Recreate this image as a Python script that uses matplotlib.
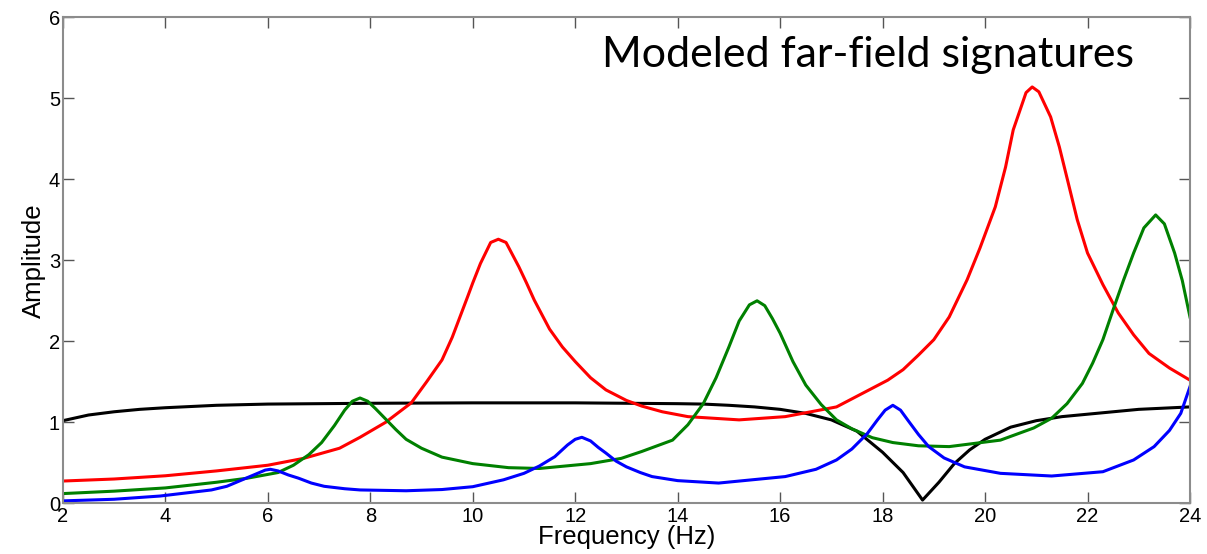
import numpy as np
import matplotlib
matplotlib.use("Agg")
import matplotlib.pyplot as plt

# =========================
# DATA
# =========================

freq_black = [2, 2.5, 3, 3.5, 4, 5, 6, 8, 10, 12, 13, 14, 14.5, 15, 15.5, 16,
              16.5, 17, 17.5, 18, 18.4, 18.78, 19.1, 19.4, 19.7, 20, 20.5, 21,
              21.5, 22, 23, 24]
amp_black = [1.02, 1.09, 1.13, 1.16, 1.18, 1.21, 1.225, 1.235, 1.24, 1.24,
             1.235, 1.23, 1.225, 1.21, 1.19, 1.16, 1.11, 1.03, 0.89, 0.63,
             0.38, 0.04, 0.26, 0.49, 0.66, 0.79, 0.94, 1.02, 1.07, 1.10, 1.16,
             1.19]

freq_red = [2, 3, 4, 5, 6, 6.7, 7.4, 7.8, 8.3, 8.8, 9.1, 9.4, 9.6, 9.75, 9.9,
            10.0, 10.15, 10.35, 10.5, 10.65, 10.9, 11.05, 11.2, 11.5, 11.75,
            12.0, 12.3, 12.6, 13.0, 13.3, 13.7, 14.2, 15.2, 16.1, 17.1, 18.1,
            18.4, 18.7, 19.0, 19.3, 19.65, 19.9, 20.2, 20.4, 20.55, 20.8,
            20.92, 21.05, 21.28, 21.45, 21.61, 21.8, 22.0, 22.3, 22.6, 22.9,
            23.2, 23.6, 24]
amp_red = [0.275, 0.30, 0.34, 0.40, 0.47, 0.555, 0.68, 0.815, 1.0, 1.24, 1.5,
           1.77, 2.05, 2.30, 2.55, 2.72, 2.96, 3.22, 3.26, 3.22, 2.92, 2.72,
           2.51, 2.15, 1.93, 1.75, 1.55, 1.40, 1.27, 1.20, 1.13, 1.07, 1.03,
           1.07, 1.19, 1.52, 1.65, 1.83, 2.02, 2.30, 2.76, 3.15, 3.66, 4.15,
           4.61, 5.07, 5.14, 5.08, 4.77, 4.40, 3.99, 3.50, 3.09, 2.70, 2.35,
           2.08, 1.85, 1.67, 1.52]

freq_green = [2, 3, 4, 5, 5.6, 6.2, 6.5, 6.8, 7.05, 7.3, 7.5, 7.65, 7.8, 7.95,
              8.1, 8.3, 8.5, 8.7, 9.0, 9.4, 10, 10.7, 11.3, 12.3, 12.9, 13.3,
              13.9, 14.2, 14.5, 14.75, 15.0, 15.2, 15.4, 15.55, 15.7, 15.85,
              16.0, 16.25, 16.5, 16.8, 17.1, 17.4, 17.8, 18.2, 18.7, 19.3,
              20.3, 20.95, 21.3, 21.6, 21.9, 22.1, 22.3, 22.5, 22.7, 22.9,
              23.1, 23.33, 23.5, 23.7, 23.85, 24]
amp_green = [0.12, 0.15, 0.19, 0.26, 0.31, 0.38, 0.47, 0.60, 0.75, 0.96, 1.15,
             1.26, 1.30, 1.26, 1.17, 1.04, 0.91, 0.79, 0.68, 0.57, 0.49, 0.44,
             0.43, 0.49, 0.555, 0.64, 0.78, 0.97, 1.23, 1.55, 1.93, 2.25, 2.45,
             2.50, 2.44, 2.28, 2.10, 1.75, 1.46, 1.22, 1.03, 0.92, 0.81, 0.75,
             0.71, 0.70, 0.78, 0.93, 1.05, 1.23, 1.48, 1.73, 2.02, 2.39, 2.75,
             3.09, 3.40, 3.56, 3.45, 3.09, 2.75, 2.30]

freq_blue = [2, 3, 3.9, 4.9, 5.2, 5.5, 5.8, 5.95, 6.05, 6.2, 6.4, 6.6, 6.85,
             7.1, 7.5, 7.8, 8.7, 9.4, 10.0, 10.6, 11.0, 11.3, 11.6, 11.85,
             12.0, 12.13, 12.3, 12.45, 12.6, 12.8, 13.0, 13.27, 13.5, 14.0,
             14.8, 16.1, 16.7, 17.1, 17.4, 17.7, 17.9, 18.05, 18.2, 18.35,
             18.5, 18.7, 18.9, 19.2, 19.6, 20.3, 21.3, 22.3, 22.9, 23.3, 23.6,
             23.82, 24]
amp_blue = [0.03, 0.05, 0.09, 0.165, 0.21, 0.29, 0.37, 0.41, 0.42, 0.40, 0.35,
            0.31, 0.25, 0.21, 0.18, 0.165, 0.155, 0.17, 0.205, 0.29, 0.37,
            0.46, 0.575, 0.72, 0.79, 0.815, 0.77, 0.69, 0.62, 0.52, 0.45, 0.38,
            0.33, 0.28, 0.25, 0.33, 0.42, 0.535, 0.67, 0.86, 1.03, 1.15, 1.21,
            1.15, 1.02, 0.85, 0.70, 0.56, 0.45, 0.37, 0.337, 0.39, 0.535, 0.70,
            0.90, 1.11, 1.44]

x_ticks = [2, 4, 6, 8, 10, 12, 14, 16, 18, 20, 22, 24]
y_ticks = [0, 1, 2, 3, 4, 5, 6]

# =========================
# PLOT
# =========================

plt.rcParams["font.family"] = ["Liberation Sans", "DejaVu Sans"]

fig = plt.figure(figsize=(12.07, 5.54), dpi=100)
ax = fig.add_axes([0.0521, 0.0915, 0.9338, 0.8773])

ax.plot(freq_black, amp_black, color="black", lw=2.2)
ax.plot(freq_red, amp_red, color="#ff0000", lw=2.2)
ax.plot(freq_green, amp_green, color="#008000", lw=2.2)
ax.plot(freq_blue, amp_blue, color="#0000ff", lw=2.2)

ax.set_xlim(2, 24)
ax.set_ylim(0, 6)
ax.set_xticks(x_ticks)
ax.set_yticks(y_ticks)

ax.tick_params(direction="in", length=8, width=1, color="#555555",
               top=True, right=True, labelsize=14.5)
ax.tick_params(axis="x", pad=3)
ax.tick_params(axis="y", pad=2)
for spine in ax.spines.values():
    spine.set_color("#8c8c8c")
    spine.set_linewidth(1.5)

ax.set_xlabel("Frequency (Hz)", fontsize=18.5, labelpad=-1)
ax.set_ylabel("Amplitude", fontsize=18.5, labelpad=2)

ax.text(22.9, 5.39, "Modeled far-field signatures", family="Lato",
        fontsize=31, ha="right", va="baseline")

fig.savefig("out.png", dpi=100)
